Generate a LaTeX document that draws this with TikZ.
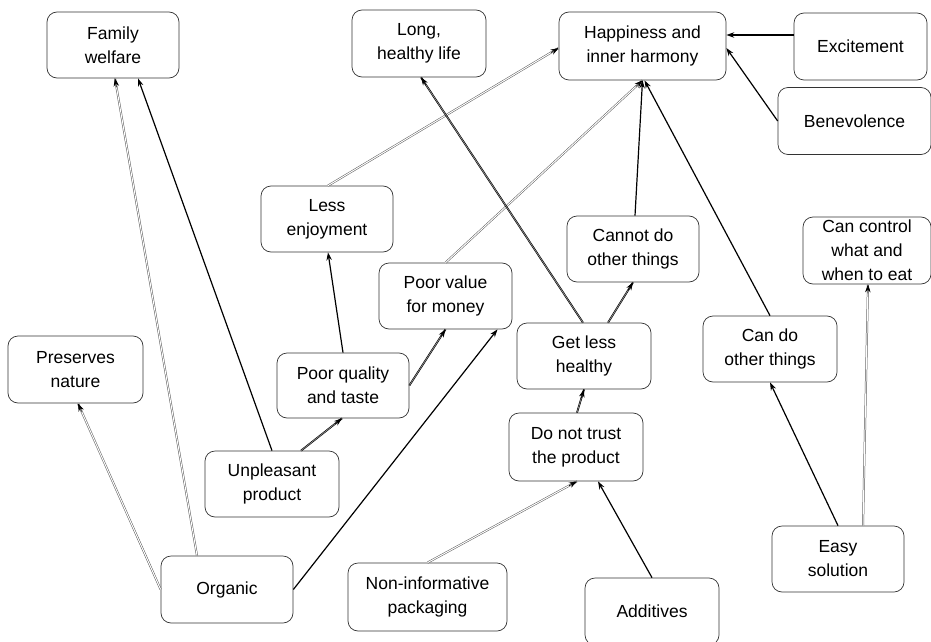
\documentclass[tikz,border=0pt]{standalone}
\usepackage{fontspec}
\setmainfont{Liberation Sans}
\usetikzlibrary{arrows.meta,calc}
% a double-stroked connector finished by a solid black tip
\newcommand\dbllink[3]{%
  \draw[#1] #2 coordinate (ds) -- #3 coordinate (de);
  \draw[tip, draw=black, line width=0.6pt] ($(de)!9pt!(ds)$) -- (de);}
\begin{document}
\begin{tikzpicture}[x=1pt,y=-1pt,
  box/.style={draw=black!80, line width=0.7pt, rounded corners=10pt, align=center,
    inner sep=0pt, font=\fontsize{17.5}{24}\selectfont},
  tip/.style={-{Stealth[length=8pt,width=5.5pt]}},
  solidlink/.style={tip, draw=black, line width=1.2pt},
  graylink/.style={draw=black!65, line width=0.5pt, double=white, double distance=1pt},
  darklink/.style={draw=black, line width=0.6pt, double=black!40, double distance=0.6pt}]
\useasboundingbox (0,0) rectangle (931,642);

% concepts
\node[box, minimum width=132pt, minimum height=66pt] (fam) at (113,45) {Family\\welfare};
\node[box, minimum width=134pt, minimum height=67pt] (long) at (419,43.5) {Long,\\healthy life};
\node[box, minimum width=167pt, minimum height=68pt] (happy) at (642.5,46) {Happiness and\\inner harmony};
\node[box, minimum width=133pt, minimum height=67pt] (excite) at (860.5,46.5) {Excitement};
\node[box, minimum width=153pt, minimum height=67pt] (benev) at (854.5,121) {Benevolence};
\node[box, minimum width=132pt, minimum height=66pt] (lessenj) at (327,219) {Less\\enjoyment};
\node[box, minimum width=133pt, minimum height=66pt] (poorval) at (445.5,296) {Poor value\\for money};
\node[box, minimum width=132pt, minimum height=66pt] (cannot) at (633,249) {Cannot do\\other things};
\node[box, minimum width=128pt, minimum height=67pt] (canctrl) at (867,250.5) {Can control\\what and\\when to eat};
\node[box, minimum width=135pt, minimum height=67pt] (preserve) at (75.5,369.5) {Preserves\\nature};
\node[box, minimum width=132pt, minimum height=65pt] (poorq) at (343,385.5) {Poor quality\\and taste};
\node[box, minimum width=134pt, minimum height=66pt] (getless) at (584,356) {Get less\\healthy};
\node[box, minimum width=134pt, minimum height=66pt] (cando) at (770,349) {Can do\\other things};
\node[box, minimum width=134pt, minimum height=68pt] (trust) at (576,447) {Do not trust\\the product};
\node[box, minimum width=134pt, minimum height=66pt] (unpl) at (272,484) {Unpleasant\\product};
\node[box, minimum width=132pt, minimum height=67pt] (organic) at (227,589.5) {Organic};
\node[box, minimum width=159pt, minimum height=68pt] (noninf) at (427.5,597) {Non-informative\\packaging};
\node[box, minimum width=134pt, minimum height=67pt] (additives) at (652,611.5) {Additives};
\node[box, minimum width=132pt, minimum height=66pt] (easy) at (838,559) {Easy\\solution};

% links
\dbllink{graylink}{([xshift=-30pt]organic.north)}{([xshift=2pt]fam.south)}
\draw[solidlink] (unpl.north) -- ([xshift=25pt]fam.south);
\dbllink{graylink}{(organic.west)}{([xshift=2.5pt]preserve.south)}
\draw[solidlink] (organic.east) -- ([xshift=52pt]poorval.south);
\dbllink{darklink}{([xshift=29pt]unpl.north)}{([xshift=-1pt]poorq.south)}
\draw[solidlink] (poorq.north) -- ([xshift=1pt]lessenj.south);
\dbllink{darklink}{(poorq.east)}{(poorval.south)}
\dbllink{graylink}{([xshift=1pt]lessenj.north)}{([yshift=-2pt]happy.west)}
\dbllink{graylink}{(poorval.north)}{(happy.south)}
\dbllink{darklink}{([xshift=-1pt]getless.north)}{([xshift=2pt]long.south)}
\dbllink{darklink}{([xshift=24pt]getless.north)}{(cannot.south)}
\draw[solidlink] ([xshift=2pt]cannot.north) -- (happy.south);
\draw[solidlink] (cando.north) -- ([xshift=2pt]happy.south);
\dbllink{darklink}{([xshift=1pt]trust.north)}{(getless.south)}
\dbllink{graylink}{(noninf.north)}{([xshift=1pt]trust.south)}
\draw[solidlink] (additives.north) -- ([xshift=22pt]trust.south);
\draw[solidlink] (easy.north) -- (cando.south);
\dbllink{graylink}{([xshift=25pt]easy.north)}{([xshift=1pt]canctrl.south)}
\draw[solidlink] ([yshift=11.5pt]excite.west) -- ([yshift=11pt]happy.east);
\draw[solidlink] (benev.west) -- ([yshift=-2pt]happy.east);
\end{tikzpicture}
\end{document}
